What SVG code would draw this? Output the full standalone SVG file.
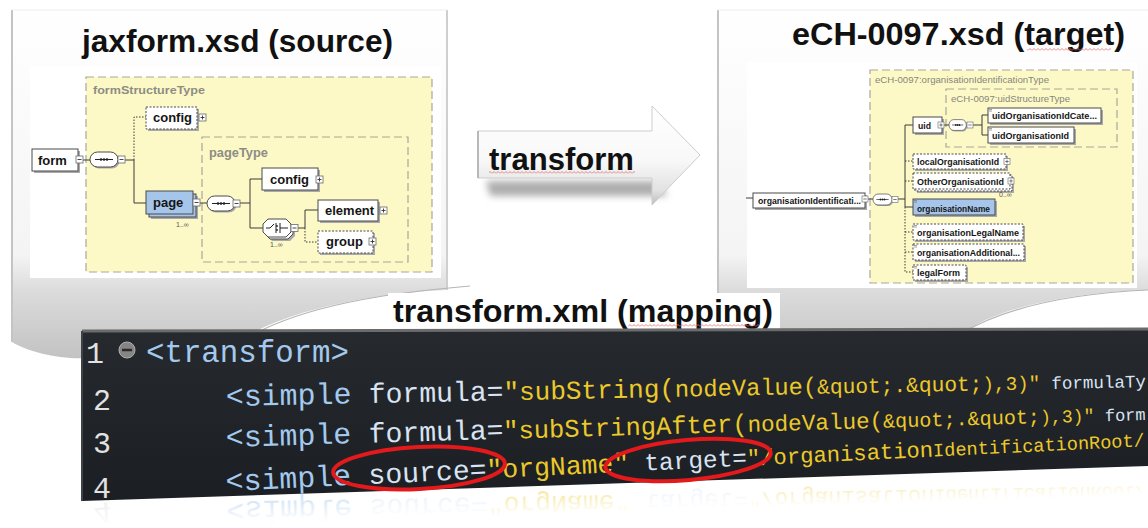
<svg xmlns="http://www.w3.org/2000/svg" width="1148" height="528" viewBox="0 0 1148 528">
  <defs>
    <style>
      .title { font-family: "Liberation Sans", Arial, sans-serif; font-weight: bold; fill: #111; }
      .box { fill: #fff; stroke: #4a4a4a; stroke-width: 1; }
      .opt { fill: #fff; stroke: #4a4a4a; stroke-width: 1; stroke-dasharray: 2 1.5; }
      .blue { fill: #a6c5ea; stroke: #4a4a4a; stroke-width: 1; }
      .sh { fill: #a9a9a9; }
      .ybox { fill: #fdf9c6; stroke: #a7a79b; stroke-width: 1.2; stroke-dasharray: 8 4; }
      .dbox { fill: none; stroke: #a7a79b; stroke-width: 1.2; stroke-dasharray: 8 4; }
      .tlbl { font-family: "Liberation Sans", Arial, sans-serif; font-weight: bold; fill: #8d8d85; }
      .tlbr { font-family: "Liberation Sans", Arial, sans-serif; fill: #86867e; font-size: 9.5px; }
      .nl { font-family: "Liberation Sans", Arial, sans-serif; font-weight: bold; font-size: 13px; fill: #151515; }
      .nr { font-family: "Liberation Sans", Arial, sans-serif; font-weight: bold; font-size: 9px; fill: #151515; }
      .card { font-family: "Liberation Sans", Arial, sans-serif; font-size: 7px; fill: #555; }
      .conn path { fill: none; stroke: #3a3a3a; stroke-width: 1; }
      .conn path.dot { stroke-dasharray: 1.5 1.5; }
      .code { font-family: "Liberation Mono", "DejaVu Sans Mono", monospace; }
      .tag { fill: #a3c9ee; }
      .attr { fill: #d9e3f2; }
      .str { fill: #ecc92a; }
      .ln { fill: #e2e2e2; font-size: 30px; }
      .ring { fill: none; stroke: #e3191b; stroke-width: 4; }
    </style>
    <linearGradient id="pageFill" x1="0" y1="10" x2="0" y2="360" gradientUnits="userSpaceOnUse">
      <stop offset="0" stop-color="#ffffff"/>
      <stop offset="0.7" stop-color="#f4f4f4"/>
      <stop offset="0.8" stop-color="#dcdcdc"/>
      <stop offset="1" stop-color="#c2c2c2"/>
    </linearGradient>
    <linearGradient id="arrowFill" x1="0" y1="0" x2="0" y2="1">
      <stop offset="0" stop-color="#ffffff"/>
      <stop offset="0.55" stop-color="#f8f8f8"/>
      <stop offset="0.85" stop-color="#e2e2e2"/>
      <stop offset="1" stop-color="#bdbdbd"/>
    </linearGradient>
    <linearGradient id="panelFill" x1="0" y1="0" x2="0" y2="1">
      <stop offset="0" stop-color="#262a2e"/>
      <stop offset="1" stop-color="#1b1f23"/>
    </linearGradient>
    <linearGradient id="fade" x1="0" y1="501" x2="0" y2="530" gradientUnits="userSpaceOnUse" gradientTransform="rotate(-1.88 82 501)">
      <stop offset="0" stop-color="#fff" stop-opacity="0.6"/>
      <stop offset="1" stop-color="#fff" stop-opacity="0"/>
    </linearGradient>
    <mask id="reflMask" maskUnits="userSpaceOnUse" x="0" y="440" width="1148" height="88">
      <rect x="0" y="440" width="1148" height="88" fill="url(#fade)"/>
    </mask>
    <filter id="soft" x="-20%" y="-80%" width="140%" height="260%">
      <feGaussianBlur stdDeviation="3.5"/>
    </filter>
    <pattern id="squig" width="4" height="3" patternUnits="userSpaceOnUse">
      <path d="M0,2.5 L2,0.5 L4,2.5" fill="none" stroke="#e06a6a" stroke-width="0.8"/>
    </pattern>
    <!-- expand / collapse boxes -->
    <g id="mn"><rect x="0" y="0" width="7" height="7" fill="#fff" stroke="#6a6a6a" stroke-width="0.8"/><path d="M1.5,3.5H5.5" stroke="#333" stroke-width="0.9"/></g>
    <g id="pl"><rect x="0" y="0" width="7" height="7" fill="#fff" stroke="#6a6a6a" stroke-width="0.8"/><path d="M1.5,3.5H5.5M3.5,1.5V5.5" stroke="#333" stroke-width="0.9"/></g>
    <g id="mn6"><rect x="0" y="0" width="6" height="6" fill="#fff" stroke="#7a7a7a" stroke-width="0.7"/><path d="M1.3,3H4.7" stroke="#444" stroke-width="0.7"/></g>
    <g id="pl6"><rect x="0" y="0" width="6" height="6" fill="#fff" stroke="#7a7a7a" stroke-width="0.7"/><path d="M1.3,3H4.7M3,1.3V4.7" stroke="#444" stroke-width="0.7"/></g>
    <!-- sequence compositor, origin at left middle -->
    <g id="seq">
      <rect x="1.5" y="-6" width="28" height="15" rx="7.5" fill="#a9a9a9"/>
      <rect x="0" y="-7.5" width="28" height="15" rx="7.5" fill="#fff" stroke="#4a4a4a" stroke-width="1"/>
      <path d="M5,0H23" stroke="#222" stroke-width="1"/>
      <circle cx="11" cy="0" r="1.3" fill="#222"/><circle cx="14" cy="0" r="1.3" fill="#222"/><circle cx="17" cy="0" r="1.3" fill="#222"/>
    </g>
    <!-- small mark for simple-typed elements -->
    <path id="mk" d="M0,0H3M0,1.5H3" stroke="#666" stroke-width="0.6"/>
  </defs>

  <!-- background -->
  <rect x="0" y="0" width="1148" height="528" fill="#fff"/>

  <!-- paper sheets -->
  <g id="sheet-left">
    <path d="M12,10 H447 V290 C400,292 310,302 250,334 L90,358 C60,360 28,352 12,342 Z" fill="url(#pageFill)"/>
    <path d="M12,10 V342" stroke="#c4c4c4" stroke-width="2"/>
    <path d="M447,10 V290" stroke="#cfcfcf" stroke-width="2"/>
    <path d="M12,10 H447" stroke="#ededed" stroke-width="1"/>
    <path d="M262,330 C320,302 400,292 470,286" fill="none" stroke="#b5b5b5" stroke-width="1.2"/>
  </g>
  <g id="sheet-right">
    <path d="M718,10 H1148 V290 C1080,292 1000,305 962,334 L718,334 Z" fill="url(#pageFill)"/>
    <path d="M718,10 V334" stroke="#c4c4c4" stroke-width="2"/>
    <path d="M718,10 H1148" stroke="#ededed" stroke-width="1"/>
    <path d="M962,333 C1010,305 1080,293 1148,290" fill="none" stroke="#b5b5b5" stroke-width="1.2"/>
  </g>

  <!-- titles -->
  <text x="82" y="52" class="title" font-size="32" textLength="311" lengthAdjust="spacingAndGlyphs">jaxform.xsd (source)</text>
  <text x="792" y="45" class="title" font-size="32" textLength="333" lengthAdjust="spacingAndGlyphs">eCH-0097.xsd (target)</text>
  <rect x="1027" y="48" width="84" height="3" fill="url(#squig)"/>

  <!-- source schema: containers -->
  <g id="src-schema">
    <rect x="30" y="66" width="411" height="212" fill="#fff"/>
    <rect x="86" y="77" width="346" height="195" class="ybox"/>
    <text x="93" y="94" class="tlbl" font-size="11.5" textLength="112" lengthAdjust="spacingAndGlyphs">formStructureType</text>
    <rect x="202" y="137" width="206" height="125" class="dbox"/>
    <text x="209" y="157" class="tlbl" font-size="12.5" textLength="59" lengthAdjust="spacingAndGlyphs">pageType</text>
  </g>

  <!-- target schema: containers -->
  <g id="tgt-schema">
    <rect x="747" y="62" width="390" height="226" fill="#fff"/>
    <rect x="870" y="70" width="263" height="213" class="ybox"/>
    <text x="875" y="83" class="tlbr" textLength="174" lengthAdjust="spacingAndGlyphs">eCH-0097:organisationIdentificationType</text>
    <rect x="946" y="89" width="171" height="58" class="dbox"/>
    <text x="951" y="101.5" class="tlbr" textLength="119" lengthAdjust="spacingAndGlyphs">eCH-0097:uidStructureType</text>
  </g>

  <!-- connectors -->
  <g id="connectors" class="conn">
    <path d="M83,160H90"/>
    <path d="M125,160H134V203H146"/>
    <path class="dot" d="M134,160V117H146"/>
    <path d="M200,203H207"/>
    <path d="M240,203H250"/>
    <path d="M262,179H250V228H263"/>
    <path d="M298,228H305V210H318"/>
    <path class="dot" d="M305,228V242H318"/>
    <path d="M746,198H753"/>
    <path d="M868,199H873"/>
    <path d="M898,199H905"/>
    <path d="M913,125H905V207H913"/>
    <path class="dot" d="M905,161H913M905,181H913"/>
    <path class="dot" d="M905,207V272H913M905,232H913M905,252H913"/>
    <path d="M944,125H949"/>
    <path d="M973,125H982"/>
    <path d="M988,115H982V135H988"/>
  </g>

  <!-- source schema nodes -->
  <g id="n-form">
    <rect x="34" y="151" width="46" height="22" class="sh"/>
    <rect x="32" y="149" width="46" height="22" class="box"/>
    <text x="38" y="165" class="nl">form</text>
    <use href="#mn" x="76" y="156"/>
  </g>
  <g id="n-seq1">
    <use href="#seq" x="90" y="159.5"/>
    <use href="#mn" x="118" y="156"/>
  </g>
  <g id="n-config1">
    <rect x="148" y="109" width="51" height="22" class="sh"/>
    <rect x="146" y="107" width="51" height="22" class="opt"/>
    <text x="153" y="122" class="nl">config</text>
    <use href="#pl" x="199" y="114"/>
  </g>
  <g id="n-page">
    <rect x="151" y="196" width="47" height="23" class="sh"/>
    <rect x="149" y="194" width="47" height="23" class="blue"/>
    <rect x="146" y="191" width="47" height="23" class="blue"/>
    <text x="153" y="207" class="nl">page</text>
    <use href="#mn" x="193" y="199"/>
    <text x="176" y="227" class="card">1..∞</text>
  </g>
  <g id="n-seq2">
    <use href="#seq" x="207" y="203.5"/>
    <use href="#mn" x="233" y="200"/>
  </g>
  <g id="n-config2">
    <rect x="264" y="170" width="56" height="22" class="sh"/>
    <rect x="262" y="168" width="56" height="22" class="box"/>
    <text x="270" y="184" class="nl">config</text>
    <use href="#pl" x="316" y="176"/>
  </g>
  <g id="n-choice">
    <path d="M272,223H290L295,228V236L290,241H272L267,236V228Z" fill="#a9a9a9"/>
    <path d="M270,221H288L293,226V234L288,239H270L265,234V226Z" fill="#fff" stroke="#4a4a4a"/>
    <path d="M268,219H286L291,224V232L286,237H268L263,232V224Z" fill="#fff" stroke="#4a4a4a"/>
    <path d="M266,228H270L274,224M276,223V233M280,223V233M280,228H288" fill="none" stroke="#222" stroke-width="1"/>
    <circle cx="277" cy="226" r="0.9" fill="#222"/><circle cx="277" cy="230" r="0.9" fill="#222"/>
    <use href="#mn" x="291" y="224.5"/>
    <text x="270" y="247" class="card">1..∞</text>
  </g>
  <g id="n-element">
    <rect x="320" y="202" width="60" height="21" class="sh"/>
    <rect x="318" y="200" width="60" height="21" class="box"/>
    <text x="325" y="215" class="nl">element</text>
    <use href="#pl" x="380" y="207"/>
  </g>
  <g id="n-group">
    <rect x="320" y="233" width="55" height="22" class="sh"/>
    <rect x="318" y="231" width="55" height="22" class="opt"/>
    <text x="326" y="246" class="nl">group</text>
    <use href="#pl" x="369" y="238"/>
  </g>

  <!-- target schema nodes -->
  <g id="n-orgIdent">
    <rect x="755" y="195" width="112" height="15" class="sh"/>
    <rect x="753" y="193" width="112" height="15" class="box"/>
    <text x="758" y="203.5" class="nr" textLength="103" lengthAdjust="spacingAndGlyphs">organisationIdentificati...</text>
    <use href="#mn6" x="862" y="196"/>
  </g>
  <g id="n-seq3">
    <use href="#seq" transform="translate(873,199.5) scale(0.68 0.73)"/>
    <use href="#mn6" x="892" y="196.5"/>
  </g>
  <g id="n-uid">
    <rect x="915" y="119" width="29" height="16" class="sh"/>
    <rect x="913" y="117" width="29" height="16" class="box"/>
    <text x="918" y="128.5" class="nr" textLength="13" lengthAdjust="spacingAndGlyphs">uid</text>
    <use href="#pl6" x="938" y="122"/>
  </g>
  <g id="n-seq4">
    <use href="#seq" transform="translate(949,125) scale(0.62 0.72)"/>
    <use href="#mn6" x="967" y="122"/>
  </g>
  <g id="n-uidCat">
    <rect x="990" y="110" width="113" height="15" class="sh"/>
    <rect x="988" y="108" width="113" height="15" class="box"/>
    <use href="#mk" x="989" y="109.5"/>
    <text x="992" y="119" class="nr" textLength="105" lengthAdjust="spacingAndGlyphs">uidOrganisationIdCate...</text>
  </g>
  <g id="n-uidOrg">
    <rect x="990" y="129" width="86" height="16" class="sh"/>
    <rect x="988" y="127" width="86" height="16" class="box"/>
    <use href="#mk" x="989" y="128.5"/>
    <text x="992" y="138.5" class="nr" textLength="77" lengthAdjust="spacingAndGlyphs">uidOrganisationId</text>
  </g>
  <g id="n-localOrg">
    <rect x="915" y="156" width="93" height="15" class="sh"/>
    <rect x="913" y="154" width="93" height="15" class="opt"/>
    <text x="917" y="165" class="nr" textLength="82" lengthAdjust="spacingAndGlyphs">localOrganisationId</text>
    <use href="#pl6" x="1004" y="158.5"/>
  </g>
  <g id="n-otherOrg">
    <rect x="917" y="177" width="97" height="16" class="sh"/>
    <rect x="915" y="175" width="97" height="16" class="opt"/>
    <rect x="913" y="173" width="97" height="16" class="opt"/>
    <text x="917" y="184.5" class="nr" textLength="87" lengthAdjust="spacingAndGlyphs">OtherOrganisationId</text>
    <use href="#pl6" x="1008" y="178"/>
    <text x="999" y="197" class="card" font-size="6">0..∞</text>
  </g>
  <g id="n-orgName">
    <rect x="915" y="201" width="82" height="16" class="sh"/>
    <rect x="913" y="199" width="82" height="16" class="blue"/>
    <use href="#mk" x="914" y="200.5"/>
    <text x="917" y="211.5" class="nr" textLength="73" lengthAdjust="spacingAndGlyphs">organisationName</text>
  </g>
  <g id="n-orgLegal">
    <rect x="915" y="226" width="110" height="16" class="sh"/>
    <rect x="913" y="224" width="110" height="16" class="opt"/>
    <use href="#mk" x="914" y="225.5"/>
    <text x="917" y="236" class="nr" textLength="102" lengthAdjust="spacingAndGlyphs">organisationLegalName</text>
  </g>
  <g id="n-orgAdd">
    <rect x="915" y="246" width="111" height="16" class="sh"/>
    <rect x="913" y="244" width="111" height="16" class="opt"/>
    <use href="#mk" x="914" y="245.5"/>
    <text x="917" y="256" class="nr" textLength="103" lengthAdjust="spacingAndGlyphs">organisationAdditional...</text>
  </g>
  <g id="n-legalForm">
    <rect x="915" y="267" width="53" height="15" class="sh"/>
    <rect x="913" y="265" width="53" height="15" class="opt"/>
    <use href="#mk" x="914" y="266.5"/>
    <text x="917" y="276" class="nr" textLength="43" lengthAdjust="spacingAndGlyphs">legalForm</text>
  </g>

  <!-- transform arrow -->
  <g id="transform-arrow">
    <path d="M486,181 H656 L668,196 H490 Z" fill="#9a9a9a" filter="url(#soft)" opacity="0.8"/>
    <path d="M478,131H652V106L700,155L652,205V178H478Z" fill="url(#arrowFill)" stroke="#cdcdcd" stroke-width="1"/>
    <path d="M478,131V178" stroke="#b8b8b8" stroke-width="2"/>
    <text x="489" y="170" class="title" font-size="31" textLength="145" lengthAdjust="spacingAndGlyphs">transform</text>
    <rect x="489" y="171" width="146" height="3" fill="url(#squig)"/>
  </g>

  <!-- mapping title -->
  <g id="mapping-title">
    <rect x="388" y="293" width="392" height="36" fill="#fff"/>
    <text x="393" y="322" class="title" font-size="32" textLength="380" lengthAdjust="spacingAndGlyphs">transform.xml (mapping)</text>
    <rect x="628" y="324" width="131" height="3" fill="url(#squig)"/>
  </g>

  <!-- code editor panel -->
  <g id="code-panel">
    <path d="M82,331 L1148,329 L1148,466 L82,501 Z" fill="url(#panelFill)"/>
    <path d="M82,331 L1148,329" stroke="#6b6b6b" stroke-width="3"/>
    <path d="M82,331 V501" stroke="#3e4246" stroke-width="2"/>

    <text x="86" y="363" class="code ln">1</text>
    <circle cx="127" cy="350" r="8" fill="#858585" stroke="#b0b0b0" stroke-width="1"/>
    <path d="M122,350H132" stroke="#2a2a2a" stroke-width="2.5"/>
    <text x="146" y="362" class="code tag" font-size="30.8" textLength="203">&lt;transform&gt;</text>

    <text x="93" y="410" class="code ln">2</text>
    <g transform="translate(226,406) rotate(-1.18)" class="code">
      <text x="0" y="0" class="tag" font-size="29.9" textLength="125.6">&lt;simple</text>
      <text x="143" y="0" class="attr" font-size="28.1" textLength="134.7">formula=</text>
      <text x="277.7" y="0" class="str" font-size="26" textLength="171.5">"subString(</text>
      <text x="449.2" y="0" class="str" font-size="23.7" textLength="142.2">nodeValue(</text>
      <text x="591.4" y="0" class="str" font-size="21.2" textLength="165.3">&amp;quot;.&amp;quot;</text>
      <text x="756.7" y="0" class="str" font-size="19.3" textLength="57.8">),3)"</text>
      <text x="825.6" y="0" class="attr" font-size="17.5" textLength="94.5">formulaTy</text>
    </g>

    <text x="93" y="453" class="code ln">3</text>
    <g transform="translate(226,447) rotate(-1.68)" class="code">
      <text x="0" y="0" class="tag" font-size="29.9" textLength="125.6">&lt;simple</text>
      <text x="143" y="0" class="attr" font-size="28.1" textLength="134.7">formula=</text>
      <text x="277.7" y="0" class="str" font-size="25.4" textLength="244.2">"subStringAfter(</text>
      <text x="521.9" y="0" class="str" font-size="22.6" textLength="135.7">nodeValue(</text>
      <text x="657.6" y="0" class="str" font-size="20.1" textLength="156.9">&amp;quot;.&amp;quot;</text>
      <text x="814.5" y="0" class="str" font-size="18.1" textLength="54.4">),3)"</text>
      <text x="879.4" y="0" class="attr" font-size="17" textLength="40.7">form</text>
    </g>

    <g id="code-line-4">
      <text x="93" y="498" class="code ln">4</text>
      <g transform="translate(226,491) rotate(-2.79)" class="code">
        <text x="0" y="0" class="tag" font-size="29.9" textLength="125.6">&lt;simple</text>
        <text x="143" y="0" class="attr" font-size="28.2" textLength="118.3">source=</text>
        <text x="261.3" y="0" class="str" font-size="26.4" textLength="142.7">"orgName"</text>
        <text x="419.2" y="0" class="attr" font-size="24.5" textLength="102.7">target=</text>
        <text x="521.9" y="0" class="str" font-size="22.2" textLength="186.3">"/organisation</text>
        <text x="708.2" y="0" class="str" font-size="18.6" textLength="211.9">IdentificationRoot/</text>
      </g>
    </g>
  </g>

  <!-- mirrored copy of the last code line under the panel -->
  <g id="code-reflection" mask="url(#reflMask)">
    <use href="#code-line-4" transform="matrix(0.99785,-0.06558,-0.06558,-0.99785,33.03,1006.3)"/>
  </g>

  <!-- highlight rings -->
  <g id="highlights">
    <ellipse cx="419" cy="468" rx="86" ry="21" transform="rotate(-3 419 468)" class="ring"/>
    <ellipse cx="688" cy="460" rx="83" ry="20" transform="rotate(-5 688 460)" class="ring"/>
  </g>
</svg>
